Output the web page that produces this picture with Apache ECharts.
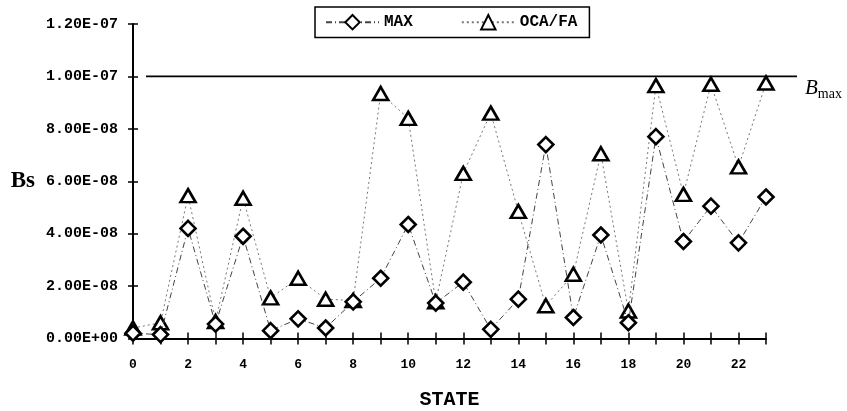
<!DOCTYPE html>
<html>
<head>
<meta charset="utf-8">
<style>
  html, body { margin: 0; padding: 0; background: #fff; }
  #chart { width: 847px; height: 411px; }
</style>
<script src="https://cdn.jsdelivr.net/npm/echarts@6/dist/echarts.min.js"></script>
</head>
<body>
<div id="chart"></div>
<script>
// States along the horizontal axis
const states = [0, 1, 2, 3, 4, 5, 6, 7, 8, 9, 10, 11, 12, 13, 14, 15, 16, 17, 18, 19, 20, 21, 22, 23];

// Bs per state, MAX allocation
const maxBs = [0.20e-8, 0.15e-8, 4.20e-8, 0.55e-8, 3.90e-8, 0.30e-8, 0.75e-8, 0.40e-8,
               1.40e-8, 2.30e-8, 4.35e-8, 1.35e-8, 2.15e-8, 0.35e-8, 1.50e-8, 7.40e-8,
               0.80e-8, 3.95e-8, 0.60e-8, 7.70e-8, 3.70e-8, 5.05e-8, 3.65e-8, 5.40e-8];

// Bs per state, OCA/FA allocation
const ocaBs = [0.40e-8, 0.60e-8, 5.45e-8, 0.65e-8, 5.35e-8, 1.55e-8, 2.30e-8, 1.50e-8,
               1.45e-8, 9.35e-8, 8.40e-8, 1.40e-8, 6.30e-8, 8.60e-8, 4.85e-8, 1.25e-8,
               2.45e-8, 7.05e-8, 1.05e-8, 9.65e-8, 5.50e-8, 9.70e-8, 6.55e-8, 9.75e-8];

// Upper bound B_max
const bMax = 1.0e-7;

// Y axis range
const yMin = 0;
const yMax = 1.2e-7;
const yStep = 2e-8;

const MONO = '"Liberation Mono", "DejaVu Sans Mono", monospace';
const SERIF = '"Liberation Serif", "DejaVu Serif", serif';

function sci(v) {
  if (Math.abs(v) < 1e-20) return '0.00E+00';
  const parts = v.toExponential(2).split('e');
  const exp = parseInt(parts[1], 10);
  const sign = exp < 0 ? '-' : '+';
  const e = String(Math.abs(exp)).padStart(2, '0');
  return parts[0] + 'E' + sign + e;
}

const chart = echarts.init(document.getElementById('chart'), null, { renderer: 'canvas' });

const markerStyle = { color: '#fff', borderColor: '#000', borderWidth: 2.6 };

chart.setOption({
  backgroundColor: '#fff',
  animation: false,
  legend: {
    left: 315,
    top: 7,
    padding: [7, 12, 7, 10],
    borderColor: '#000',
    borderWidth: 1.5,
    itemWidth: 53,
    itemHeight: 18,
    itemGap: 48,
    textStyle: { fontFamily: MONO, fontWeight: 'bold', fontSize: 16, color: '#000' },
    data: ['MAX', 'OCA/FA']
  },
  grid: [
    { left: 133, right: 81, top: 24, bottom: 72.5, outerBoundsMode: 'none' },
    { left: 146, right: 50, top: 24, bottom: 72.5, outerBoundsMode: 'none' }
  ],
  xAxis: [
    {
      type: 'value', gridIndex: 0, min: 0, max: 23, interval: 1,
      name: 'STATE', nameLocation: 'middle', nameGap: 51,
      nameTextStyle: { fontFamily: MONO, fontWeight: 'bold', fontSize: 20, color: '#000' },
      axisLine: { show: true, lineStyle: { color: '#000', width: 2 } },
      axisTick: { show: true, inside: false, length: 6, lineStyle: { color: '#000', width: 1.5 } },
      axisLabel: {
        margin: 20, color: '#000', fontFamily: MONO, fontWeight: 'bold', fontSize: 13,
        formatter: v => (v % 2 === 0 ? String(v) : '')
      },
      splitLine: { show: false }
    },
    {
      type: 'value', gridIndex: 0, position: 'bottom', min: 0, max: 23, interval: 1,
      axisLine: { show: false },
      axisTick: { show: true, inside: true, length: 6, lineStyle: { color: '#000', width: 1.5 } },
      axisLabel: { show: false },
      splitLine: { show: false }
    },
    {
      type: 'value', gridIndex: 1, min: 0, max: 1, show: false
    }
  ],
  yAxis: [
    {
      type: 'value', gridIndex: 0, min: yMin, max: yMax, interval: yStep,
      name: 'Bs', nameLocation: 'middle', nameRotate: 0, nameGap: 98,
      nameTextStyle: { fontFamily: SERIF, fontWeight: 'bold', fontSize: 23, color: '#000' },
      axisLine: { show: true, lineStyle: { color: '#000', width: 2 } },
      axisTick: { show: true, inside: false, length: 5, lineStyle: { color: '#000', width: 1.5 } },
      axisLabel: {
        margin: 15, color: '#000', fontFamily: MONO, fontWeight: 'bold', fontSize: 15,
        formatter: sci
      },
      splitLine: { show: false }
    },
    {
      type: 'value', gridIndex: 0, position: 'left', min: yMin, max: yMax, interval: yStep,
      axisLine: { show: false },
      axisTick: { show: true, inside: true, length: 5, lineStyle: { color: '#000', width: 1.5 } },
      axisLabel: { show: false },
      splitLine: { show: false }
    },
    {
      type: 'value', gridIndex: 1, min: yMin, max: yMax, show: false
    }
  ],
  series: [
    {
      name: 'B_max',
      type: 'line',
      xAxisIndex: 2,
      yAxisIndex: 2,
      data: [[0, bMax], [1, bMax]],
      symbol: 'none',
      silent: true,
      z: 1,
      lineStyle: { color: '#000', width: 1.6 },
      endLabel: {
        show: true,
        distance: 8,
        offset: [0, 12],
        formatter: '{b|B}{m|max}',
        rich: {
          b: { fontFamily: SERIF, fontStyle: 'italic', fontSize: 21, color: '#000', lineHeight: 24 },
          m: { fontFamily: SERIF, fontSize: 14, color: '#000', padding: [12, 0, 0, 0], lineHeight: 24 }
        }
      }
    },
    {
      name: 'OCA/FA',
      type: 'line',
      data: states.map((s, i) => [s, ocaBs[i]]),
      symbol: 'triangle',
      symbolSize: [15, 13],
      showAllSymbol: true,
      itemStyle: markerStyle,
      lineStyle: { color: '#777', width: 1, type: [2, 3] },
      z: 3
    },
    {
      name: 'MAX',
      type: 'line',
      data: states.map((s, i) => [s, maxBs[i]]),
      symbol: 'diamond',
      symbolSize: [15, 15],
      showAllSymbol: true,
      itemStyle: markerStyle,
      lineStyle: { color: '#444', width: 1, type: [6, 3, 1, 3] },
      z: 4
    }
  ]
});
</script>
</body>
</html>
